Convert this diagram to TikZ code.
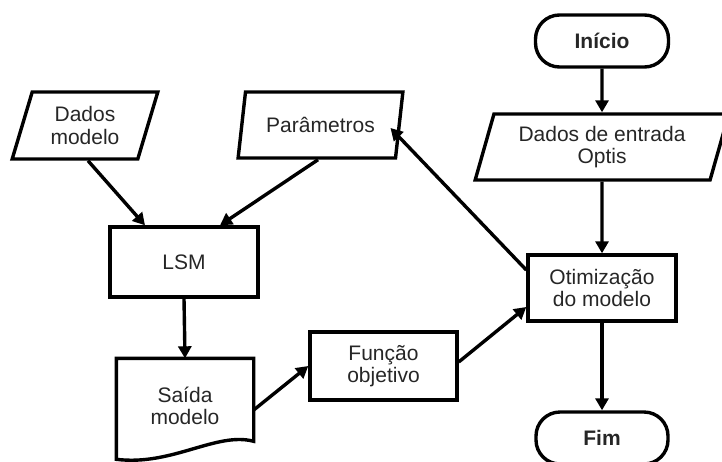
\documentclass[tikz,border=0pt]{standalone}
\usepackage{fontspec}
\setmainfont{Liberation Sans}
\usetikzlibrary{arrows.meta,shapes.geometric,calc}
\begin{document}
\begin{tikzpicture}[x=1pt,y=1pt,
  base/.style={draw=black, line width=3.4pt, align=center, inner sep=0pt,
    font=\fontsize{21}{22.5}\selectfont, text=black!85},
  term/.style={base, rounded corners=24pt, font=\fontsize{21}{22.5}\selectfont\bfseries},
  para/.style={base, trapezium, trapezium left angle=71, trapezium right angle=109,
    trapezium stretches=true},
  conn/.style={line width=3.4pt, -{Triangle[length=12pt,width=13pt]}}]
\useasboundingbox (0,0) rectangle (722,-461);
% right column
\node[term, minimum width=133, minimum height=52] (inicio) at (602,-41) {Início};
\node[para, minimum width=254, minimum height=66] (dentrada) at (602,-147) {Dados de entrada\\Optis};
\node[base, minimum width=148, minimum height=66] (otim) at (602,-288) {Otimização\\do modelo};
\node[term, minimum width=132, minimum height=52] (fim) at (602,-438) {Fim};
% left part
\node[para, minimum width=146, minimum height=67] (dmodelo) at (85,-125.5) {Dados\\modelo};
\node[para, minimum width=165, minimum height=66] (param) at (320.5,-125) {Parâmetros};
\node[base, minimum width=148, minimum height=70] (lsm) at (184,-262) {LSM};
\node[base, draw=none, minimum width=134, minimum height=92] (saida) at (185,-406) {Saída\\modelo};
\draw[line width=3.4pt, line join=miter]
  (saida.north west) -- (saida.north east) -- ($(saida.north east)+(0,-83)$)
  .. controls ($(saida.north east)+(-37,-73)$) and ($(saida.north east)+(-82,-108)$)
  .. ($(saida.north west)+(0,-101)$) -- cycle;
\node[base, minimum width=147, minimum height=68] (funcao) at (383.5,-366) {Função\\objetivo};
% connectors
\draw[conn] (inicio.south) -- (dentrada.north);
\draw[conn] (dentrada.south) -- (otim.north);
\draw[conn] (otim.south) -- (fim.north);
\draw[conn] ($(otim.west)+(0,18)$) -- ($(param.center)+(70,-3)$);
\draw[conn] ($(funcao.east)+(0,4)$) -- ($(otim.west)+(0,-19)$);
\draw[conn] ($(saida.east)+(0,-4)$) -- (funcao.west);
\draw[conn] (lsm.south) -- (saida.north);
\draw[conn] ($(dmodelo.south)+(3,0)$) -- ($(lsm.north)+(-39,0)$);
\draw[conn] ($(param.south)+(-2.5,0)$) -- ($(lsm.north)+(36,0)$);
\end{tikzpicture}
\end{document}
